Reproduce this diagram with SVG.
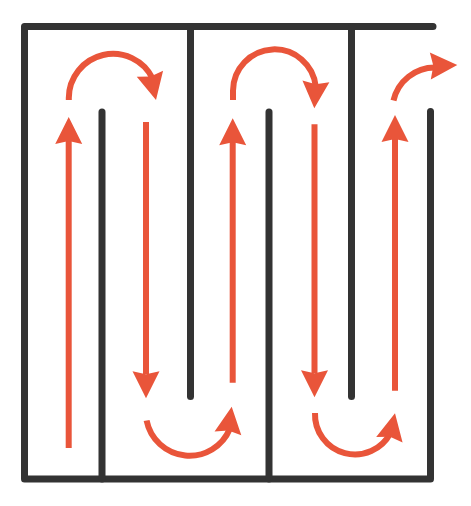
<svg xmlns="http://www.w3.org/2000/svg" width="471" height="506" viewBox="0 0 471 506">
  <style>
    .wall { fill: none; stroke: #333333; stroke-width: 7; stroke-linecap: round; stroke-linejoin: round; }
    .flow { fill: none; stroke: #E9553A; stroke-width: 6; stroke-linecap: butt; }
    .head { fill: #E9553A; }
  </style>
  <defs>
    <path id="head" class="head" d="M0,0 L-27,-13.5 L-24,0 L-27,13.5 Z"/>
  </defs>
  <rect width="471" height="506" fill="#ffffff"/>
  <g id="walls">
    <path class="wall" d="M433,26.5 L24.5,26.5 L24.5,479 L430.5,479 L430.5,111.5"/>
    <path class="wall" d="M190.5,26.5 L190.5,396.5"/>
    <path class="wall" d="M351.5,26.5 L351.5,396.5"/>
    <path class="wall" d="M102,479 L102,112"/>
    <path class="wall" d="M269,479 L269,112"/>
  </g>
  <g id="connectors">
    <!-- straight flows -->
    <path class="flow" d="M68.7,448 L68.7,141"/>
    <use href="#head" transform="translate(68.7,117) rotate(-90)"/>
    <path class="flow" d="M146,122 L146,374"/>
    <use href="#head" transform="translate(146,398.3) rotate(90)"/>
    <path class="flow" d="M232.7,382.7 L232.7,142"/>
    <use href="#head" transform="translate(232.7,118.3) rotate(-90)"/>
    <path class="flow" d="M314.5,124.3 L314.5,373"/>
    <use href="#head" transform="translate(314.5,397.3) rotate(90)"/>
    <path class="flow" d="M395,390.7 L395,139"/>
    <use href="#head" transform="translate(395,115) rotate(-90)"/>
    <!-- turning arcs -->
    <path class="flow" d="M68.8,100 L68.8,98 A44.2,44.2 0 0 1 152.7,78.6"/>
    <use href="#head" transform="translate(156,100) rotate(77)"/>
    <path class="flow" d="M233,100 L233,90.8 A41.5,41.5 0 0 1 315.8,86.8"/>
    <use href="#head" transform="translate(314.3,108.3) rotate(93.4)"/>
    <path class="flow" d="M393.5,100.5 A42.5,42.5 0 0 1 435,67.5"/>
    <use href="#head" transform="translate(457.3,65) rotate(-2)"/>
    <path class="flow" d="M146.6,420.5 A43.7,43.7 0 0 0 229.9,428.6"/>
    <use href="#head" transform="translate(231.7,406.7) rotate(-82)"/>
    <path class="flow" d="M315,413 A40,40 0 0 0 390.5,432.9"/>
    <use href="#head" transform="translate(395,413.3) rotate(-78)"/>
  </g>
</svg>
